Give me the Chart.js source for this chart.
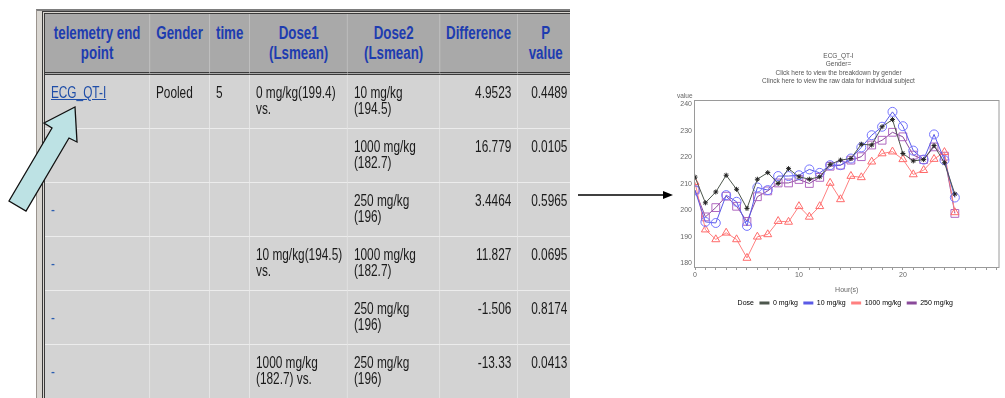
<!DOCTYPE html>
<html>
<head>
<meta charset="utf-8">
<script src="https://cdn.jsdelivr.net/npm/chart.js@4.4.1/dist/chart.umd.min.js"></script>
<style>
html,body{margin:0;padding:0;background:#fff;}
body{width:1005px;height:398px;position:relative;overflow:hidden;font-family:"Liberation Sans",Arial,sans-serif;}
#frame{position:absolute;left:36px;top:9px;width:533px;height:400px;border-left:1px solid #9a948e;border-top:2px solid #7d7d7d;background:#d9d6d1;}
#inner{position:absolute;left:42px;top:11px;width:525px;height:400px;border-left:3px double #3a3a3a;border-top:3px double #3a3a3a;}
#clip{position:absolute;left:45px;top:14px;width:525px;height:384px;overflow:hidden;}
#wrap{transform:scaleX(0.74);transform-origin:0 0;width:800px;}
table{border-collapse:separate;border-spacing:0;table-layout:fixed;width:715px;}
th{font-weight:bold;font-size:18px;line-height:20px;color:#1e3cb0;vertical-align:top;text-align:center;padding:9px 4px 0 4px;background:#a9a9a9;border-right:1px solid #c6c6c6;border-bottom:3px double #3a3a3a;}
td{font-size:16px;line-height:16px;color:#1a1a1a;vertical-align:top;padding:10px 4px 0 8px;background:#d3d3d3;border-right:1px solid #ececec;border-bottom:1px solid #ececec;white-space:nowrap;overflow:hidden;}
tr.h{height:61px;}
tr.r{height:54px;}
td.n{text-align:right;padding-right:8px;}
td.m{vertical-align:middle;padding-top:0;color:#2a5db0;}
a{color:#1f4ea8;text-decoration:underline;}
#arrows{position:absolute;left:0;top:0;}
#box{position:absolute;left:674px;top:45px;width:331px;height:275px;}
</style>
</head>
<body>
<div id="frame"></div>
<div id="inner"></div>
<div id="clip"><div id="wrap">
<table>
<colgroup><col style="width:141.9px"><col style="width:81.1px"><col style="width:54.1px"><col style="width:132.4px"><col style="width:124.3px"><col style="width:105.4px"><col style="width:75.8px"></colgroup>
<tr class="h"><th>telemetry end<br>point</th><th>Gender</th><th>time</th><th>Dose1<br>(Lsmean)</th><th>Dose2<br>(Lsmean)</th><th>Difference</th><th>P<br>value</th></tr>
<tr class="r"><td><a>ECG_QT-I</a></td><td>Pooled</td><td>5</td><td>0 mg/kg(199.4)<br>vs.</td><td>10 mg/kg<br>(194.5)</td><td class="n">4.9523</td><td class="n">0.4489</td></tr>
<tr class="r"><td class="m">-</td><td></td><td></td><td></td><td>1000 mg/kg<br>(182.7)</td><td class="n">16.779</td><td class="n">0.0105</td></tr>
<tr class="r"><td class="m">-</td><td></td><td></td><td></td><td>250 mg/kg<br>(196)</td><td class="n">3.4464</td><td class="n">0.5965</td></tr>
<tr class="r"><td class="m">-</td><td></td><td></td><td>10 mg/kg(194.5)<br>vs.</td><td>1000 mg/kg<br>(182.7)</td><td class="n">11.827</td><td class="n">0.0695</td></tr>
<tr class="r"><td class="m">-</td><td></td><td></td><td></td><td>250 mg/kg<br>(196)</td><td class="n">-1.506</td><td class="n">0.8174</td></tr>
<tr class="r"><td class="m">-</td><td></td><td></td><td>1000 mg/kg<br>(182.7) vs.</td><td>250 mg/kg<br>(196)</td><td class="n">-13.33</td><td class="n">0.0413</td></tr>
</table>
</div></div>
<svg id="arrows" width="1005" height="398">
<polygon points="75,107 77,142 69,138 26,211 9,201 52,128 44,123" fill="#bde2e4" stroke="#111" stroke-width="1.3"/>
<line x1="578" y1="195" x2="665" y2="195" stroke="#000" stroke-width="1.6"/>
<polygon points="673,195 663,191 663,199" fill="#000"/>
</svg>
<div id="box"><canvas id="qtChart"></canvas></div>
<script>
const hours = [0,1,2,3,4,5,6,7,8,9,10,11,12,13,14,15,16,17,18,19,20,21,22,23,24,25];
const dose0 = [212.6,202.9,207,213.3,208,200.8,211.8,214.3,210.2,215.8,212.7,211.8,212.7,217.4,219,219.6,225,224.7,231.6,234.3,221.5,218.7,219.2,224.5,218,206.2];
const dose10 = [207.6,195.7,195.3,205.8,203.3,194.2,208.7,207.7,213,213,213.3,215.5,214.2,217.1,217.1,219.6,223.8,228.4,231.6,237.2,231.8,222.6,219.2,228.7,219,204.9];
const dose1000 = [210.7,192.8,189.1,191.6,189.1,182.1,190.1,191,196,195.7,201.6,197.6,201.6,210.4,204.2,213,212.5,218.4,221.5,222.2,219.3,213.6,215.2,219.4,222,199.3];
const dose250 = [207.7,197.6,201.1,205.4,201.6,195.9,205.2,207.4,210.4,210.4,211.7,210.2,212.5,216.7,217.1,219,220.3,224.7,226.5,229.5,227.8,220.9,219.2,224,220.5,198.9];
const doseLabels = ['0 mg/kg','10 mg/kg','1000 mg/kg','250 mg/kg'];
const hourTicks = [0,1,2,3,4,5,6,7,8,9,10,11,12,13,14,15,16,17,18,19,20,21,22,23,24,25,26,27,28,29];
const valueTicks = [180,190,200,210,220,230,240];
const titleLines = ['ECG_QT-I','Gender=','Click here to view the breakdown by gender','Clinck here to view the raw data for individual subject'];

Chart.defaults.font.family = '"Liberation Sans", Arial, sans-serif';
Chart.defaults.color = '#666';

function series(label, values, lineColor, markColor, style, radius) {
    return {
        label: label,
        data: hours.map((h, i) => ({x: h, y: values[i]})),
        borderColor: lineColor,
        backgroundColor: markColor,
        borderWidth: 1,
        pointStyle: style,
        pointRadius: radius,
        pointBorderColor: markColor,
        pointBackgroundColor: 'rgba(0,0,0,0)',
        pointBorderWidth: 1,
        tension: 0,
        fill: false
    };
}

// box round the plot and the "value" label over the y axis
const framePlugin = {
    id: 'frame',
    beforeDatasetsDraw(chart) {
        const a = chart.chartArea;
        const ctx = chart.ctx;
        ctx.save();
        ctx.strokeStyle = '#9a9a9a';
        ctx.lineWidth = 1;
        ctx.strokeRect(a.left - 0.5, a.top - 0.5, a.right - a.left + 1, a.bottom - a.top + 1);
        ctx.fillStyle = '#666';
        ctx.font = '6.5px "Liberation Sans", Arial, sans-serif';
        ctx.textBaseline = 'bottom';
        ctx.fillText('value', a.left - 18, a.top - 2);
        ctx.restore();
    }
};

new Chart(document.getElementById('qtChart'), {
    type: 'line',
    data: {
        datasets: [
            series(doseLabels[0], dose0, '#4d574d', '#222222', 'star', 2.5),
            series(doseLabels[1], dose10, '#5a5ae6', '#7474ff', 'circle', 4.5),
            series(doseLabels[2], dose1000, '#ff8080', '#ff6b6b', 'triangle', 4.6),
            series(doseLabels[3], dose250, '#8a4a9a', '#b068c0', 'rect', 5.5)
        ]
    },
    options: {
        responsive: true,
        maintainAspectRatio: false,
        animation: false,
        layout: {padding: {left: 0, right: 2, top: 0, bottom: 3.5}},
        scales: {
            x: {
                type: 'linear',
                min: 0,
                max: 29.2,
                afterBuildTicks: s => { s.ticks = hourTicks.map(v => ({value: v})); },
                afterFit: s => { s.height = 27; },
                ticks: {
                    autoSkip: false,
                    maxRotation: 0,
                    padding: 1,
                    font: {size: 7},
                    color: '#666',
                    callback: v => (v % 10 === 0 ? v : '')
                },
                grid: {drawOnChartArea: false, drawTicks: true, tickLength: 3, color: '#999'},
                border: {display: false},
                title: {display: true, text: 'Hour(s)', font: {size: 7}, color: '#666', padding: {top: 6, bottom: 0}}
            },
            y: {
                min: 178.7,
                max: 241.3,
                afterBuildTicks: s => { s.ticks = valueTicks.map(v => ({value: v})); },
                afterFit: s => { s.width = 21; },
                ticks: {padding: 3, font: {size: 7}, color: '#666'},
                grid: {display: false, drawTicks: false},
                border: {display: false}
            }
        },
        plugins: {
            title: {
                display: true,
                text: titleLines,
                color: '#555',
                font: {size: 6.5, weight: 'normal', lineHeight: 1.3},
                padding: {top: 7, bottom: 15.2}
            },
            legend: {
                position: 'bottom',
                labels: {
                    boxWidth: 10,
                    boxHeight: 3,
                    padding: 5.5,
                    font: {size: 7},
                    color: '#555',
                    generateLabels: chart => {
                        const items = chart.data.datasets.map((d, i) => ({
                            text: d.label,
                            fillStyle: d.borderColor,
                            strokeStyle: d.borderColor,
                            lineWidth: 0,
                            hidden: false,
                            datasetIndex: i
                        }));
                        items.unshift({text: 'Dose', fillStyle: 'rgba(0,0,0,0)', strokeStyle: 'rgba(0,0,0,0)', lineWidth: 0, hidden: false});
                        return items;
                    }
                }
            },
            tooltip: {enabled: false}
        }
    },
    plugins: [framePlugin]
});
</script>
</body>
</html>
